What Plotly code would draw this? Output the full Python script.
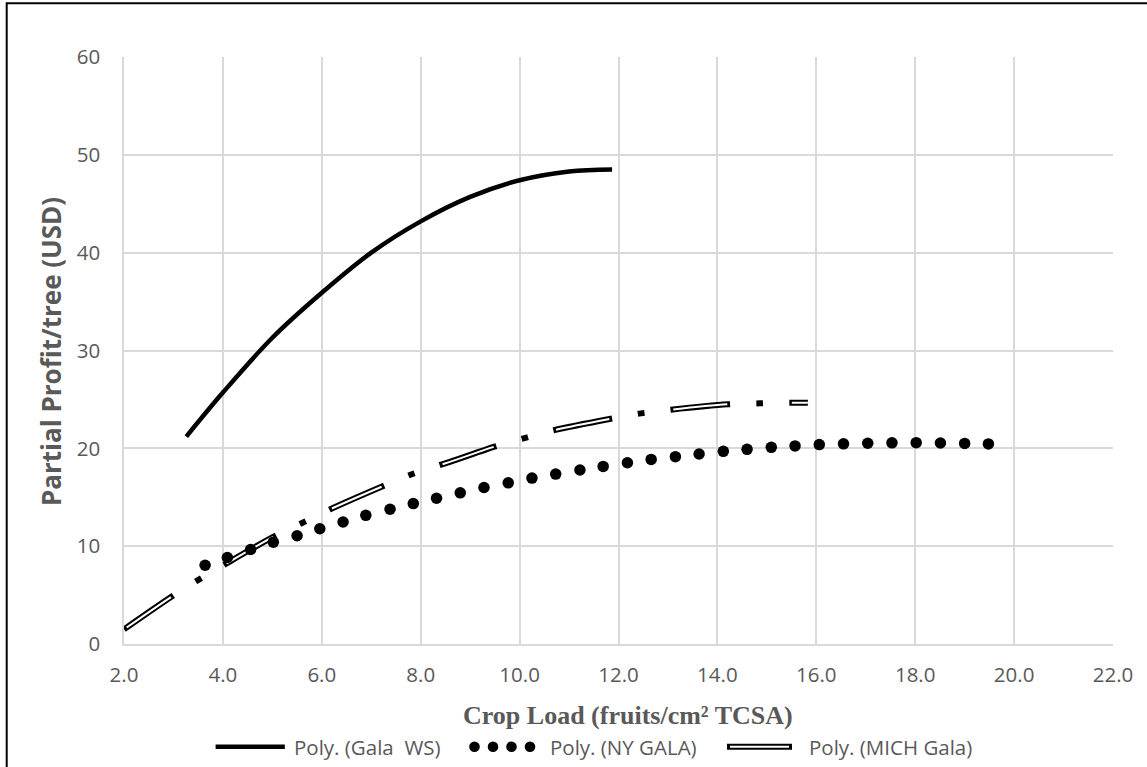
import plotly.graph_objects as go

# ---------------- data ----------------
gala_ws_x = [3.26, 4.0, 5.0, 6.0, 7.0, 8.0, 9.0, 10.0, 11.0, 11.87]
gala_ws_y = [21.2, 25.7, 31.3, 35.9, 40.0, 43.2, 45.7, 47.4, 48.3, 48.5]

ny_gala_x = [3.64, 4.09, 4.56, 5.02, 5.50, 5.96, 6.43, 6.89, 7.38, 7.85, 8.32, 8.80,
             9.28, 9.77, 10.25, 10.73, 11.22, 11.69, 12.18, 12.66, 13.15, 13.63, 14.12,
             14.60, 15.09, 15.57, 16.06, 16.55, 17.04, 17.53, 18.02, 18.51, 19.00, 19.48]
ny_gala_y = [8.05, 8.84, 9.66, 10.41, 11.06, 11.78, 12.47, 13.15, 13.77, 14.35, 14.9, 15.45,
             16.0, 16.47, 16.96, 17.37, 17.78, 18.15, 18.53, 18.87, 19.15, 19.42, 19.69,
             19.9, 20.1, 20.25, 20.38, 20.46, 20.52, 20.56, 20.58, 20.55, 20.5, 20.45]

mich_gala_x = [2.0, 2.95, 3.47, 4.01, 4.98, 5.59, 6.16, 7.22, 7.82, 8.59, 9.51, 10.1,
               10.69, 11.87, 12.42, 13.06, 14.22, 14.86, 15.47, 15.83]
mich_gala_y = [1.5, 4.8, 6.45, 8.05, 10.85, 12.35, 13.75, 16.1, 17.35, 18.62, 20.2, 21.05,
               21.85, 23.05, 23.55, 23.95, 24.5, 24.6, 24.65, 24.65]

series_names = ["Poly. (Gala  WS)", "Poly. (NY GALA)", "Poly. (MICH Gala)"]
x_ticks = [2, 4, 6, 8, 10, 12, 14, 16, 18, 20, 22]
y_ticks = [0, 10, 20, 30, 40, 50, 60]

# ---------------- layout geometry (page pixels) ----------------
W, H = 1147, 767
L, R, T, B = 124, 1113, 57, 644   # plot area
GRAY = "#595959"
GRID = "#d9d9d9"
SANS = "Open Sans"


def px_x(p):
    return (p - L) / (R - L)


def px_y(p):
    return (B - p) / (B - T)


fig = go.Figure()

# MICH Gala: double line, long-dash-dot
fig.add_trace(go.Scatter(
    x=mich_gala_x, y=mich_gala_y, mode="lines", name=series_names[2],
    line=dict(color="black", width=6, dash="60px,26px,7px,26px", shape="spline", smoothing=0.8),
    showlegend=False, hoverinfo="skip"))
fig.add_trace(go.Scatter(
    x=mich_gala_x, y=mich_gala_y, mode="lines", name=series_names[2],
    line=dict(color="white", width=2, dash="0px,3px,54px,62px", shape="spline", smoothing=0.8),
    showlegend=False, hoverinfo="skip"))

# Gala WS: solid
fig.add_trace(go.Scatter(
    x=gala_ws_x, y=gala_ws_y, mode="lines", name=series_names[0],
    line=dict(color="black", width=4.5, shape="spline", smoothing=1.0),
    showlegend=False))

# NY GALA: round dots
fig.add_trace(go.Scatter(
    x=ny_gala_x, y=ny_gala_y, mode="markers", name=series_names[1],
    marker=dict(color="black", size=11.5, line=dict(width=0)),
    showlegend=False))

shapes = []
annotations = []

# figure border (left / top visible)
shapes.append(dict(type="rect", xref="paper", yref="paper",
                   x0=px_x(6.7), x1=px_x(1200), y0=px_y(820), y1=px_y(3.3),
                   line=dict(color="black", width=2), fillcolor="rgba(0,0,0,0)", layer="above"))

# ----- manual legend -----
ly = 746.7
shapes.append(dict(type="line", xref="paper", yref="paper",
                   x0=px_x(215.6), x1=px_x(284.8), y0=px_y(ly), y1=px_y(ly),
                   line=dict(color="black", width=4.5)))
for cx in [474.5, 493.0, 511.5, 530.0]:
    r = 5.3
    shapes.append(dict(type="circle", xref="paper", yref="paper",
                       x0=px_x(cx - r), x1=px_x(cx + r), y0=px_y(ly + r), y1=px_y(ly - r),
                       fillcolor="black", line=dict(width=0)))
shapes.append(dict(type="line", xref="paper", yref="paper",
                   x0=px_x(727), x1=px_x(792), y0=px_y(ly), y1=px_y(ly),
                   line=dict(color="black", width=6)))
shapes.append(dict(type="line", xref="paper", yref="paper",
                   x0=px_x(730), x1=px_x(789), y0=px_y(ly), y1=px_y(ly),
                   line=dict(color="white", width=2)))

for txt, lx in zip(series_names, [291.5, 548.0, 806.7]):
    annotations.append(dict(text=txt, xref="paper", yref="paper", x=px_x(lx), y=px_y(ly),
                            xanchor="left", yanchor="middle", showarrow=False,
                            font=dict(family=SANS, size=20.5, color=GRAY)))

# axis titles
annotations.append(dict(text="<b>Crop Load (fruits/cm² TCSA)</b>",
                        xref="paper", yref="paper", x=px_x(628), y=px_y(715),
                        xanchor="center", yanchor="middle", showarrow=False,
                        font=dict(family="Liberation Serif", size=26, color=GRAY)))
annotations.append(dict(text="<b>Partial Profit/tree (USD)</b>",
                        xref="paper", yref="paper", x=px_x(51), y=px_y(352),
                        xanchor="center", yanchor="middle", showarrow=False, textangle=-90,
                        font=dict(family=SANS, size=26, color=GRAY)))

fig.update_layout(
    width=W, height=H,
    margin=dict(l=L, r=W - R, t=T, b=H - B, pad=0),
    paper_bgcolor="white", plot_bgcolor="white",
    showlegend=False,
    shapes=shapes, annotations=annotations,
    xaxis=dict(range=[2, 22], tickvals=x_ticks, ticktext=[f"{v:.1f}" for v in x_ticks],
               showgrid=True, gridcolor=GRID, gridwidth=1.5, zeroline=False,
               showline=True, linecolor=GRID, linewidth=1.5, ticks="",
               tickfont=dict(family=SANS, size=20.5, color=GRAY), ticklabelstandoff=12),
    yaxis=dict(range=[0, 60], tickvals=y_ticks, ticktext=[str(v) for v in y_ticks],
               showgrid=True, gridcolor=GRID, gridwidth=1.5, zeroline=False,
               showline=True, linecolor=GRID, linewidth=1.5, ticks="",
               tickfont=dict(family=SANS, size=20.5, color=GRAY), ticklabelstandoff=18),
)

fig.write_html(
    "out.html",
    config={"displayModeBar": False},
    post_script="document.body.style.margin='0';document.body.style.overflow='hidden';",
)
